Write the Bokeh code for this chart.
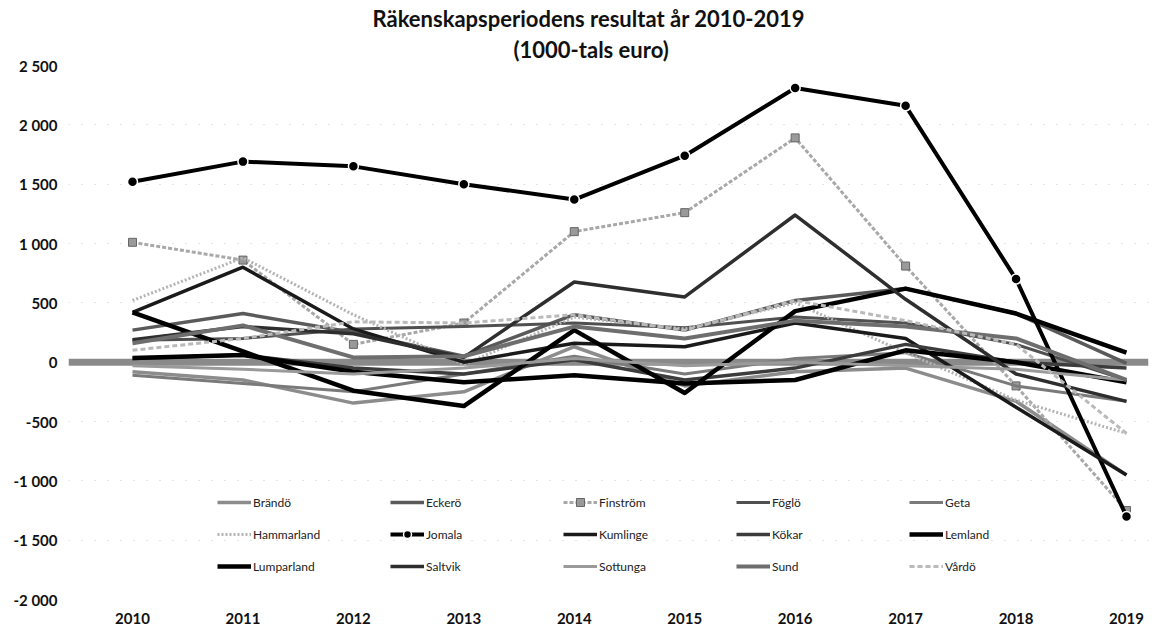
from bokeh.plotting import figure
from bokeh.models import (Range1d, FixedTicker, Span, Title, Legend, LegendItem)
from bokeh.embed import file_html
from bokeh.resources import INLINE

years = [2010, 2011, 2012, 2013, 2014, 2015, 2016, 2017, 2018, 2019]

brando     = [-80, -150, -345, -250, 130, -200, -80, -50, -330, -950]
eckero     = [270, 410, 250, 50, 400, 270, 520, 620, 410, -10]
finstrom   = [1010, 860, 150, 330, 1100, 1260, 1890, 810, -200, -1250]
foglo      = [185, 200, 280, 300, 330, 290, 380, 330, 150, -150]
geta       = [-110, -180, -250, -100, 50, -100, 30, 80, -200, -330]
hammarland = [520, 880, 400, -20, 380, 280, 500, 80, -320, -600]
jomala     = [1520, 1690, 1650, 1500, 1370, 1740, 2310, 2160, 700, -1300]
kumlinge   = [420, 800, 280, 0, 160, 130, 330, 200, -380, -950]
kokar      = [30, 60, -50, -100, 20, -150, -50, 150, 0, -50]
lemland    = [420, 90, -240, -370, 270, -260, 430, 620, 410, 80]
lumparland = [35, 60, -80, -170, -110, -180, -150, 100, 0, -170]
saltvik    = [190, 300, 240, 40, 676, 550, 1240, 530, -100, -330]
sottunga   = [-30, -60, -100, -50, 30, -30, 0, -30, -60, -150]
sund       = [160, 310, 40, 50, 300, 200, 350, 300, 200, -150]
vardo      = [100, 200, 340, 330, 400, 270, 520, 350, 150, -600]

names = ["Brändö", "Eckerö", "Finström", "Föglö", "Geta",
         "Hammarland", "Jomala", "Kumlinge", "Kökar", "Lemland",
         "Lumparland", "Saltvik", "Sottunga", "Sund", "Vårdö"]
series = [brando, eckero, finstrom, foglo, geta, hammarland, jomala, kumlinge,
          kokar, lemland, lumparland, saltvik, sottunga, sund, vardo]

y_ticks = [-2000, -1500, -1000, -500, 0, 500, 1000, 1500, 2000, 2500]
y_tick_labels = ["-2 000", "-1 500", "-1 000", "-500", "0", "500", "1 000", "1 500", "2 000", "2 500"]

title1 = "Räkenskapsperiodens resultat år 2010-2019"
title2 = "(1000-tals euro)"

# styles: (color, width, dash, marker)
styles = {
    "Brändö":     ("#8c8c8c", 3.5, "solid", None),
    "Eckerö":     ("#5a5a5a", 3.5, "solid", None),
    "Finström":   ("#a8a8a8", 3.0, "4 2", "square"),
    "Föglö":      ("#505050", 3.0, "solid", None),
    "Geta":       ("#7a7a7a", 3.0, "solid", None),
    "Hammarland": ("#b4b4b4", 3.0, "2 2", None),
    "Jomala":     ("#000000", 4.0, "solid", "circle"),
    "Kumlinge":   ("#1a1a1a", 3.5, "solid", None),
    "Kökar":      ("#3c3c3c", 3.5, "solid", None),
    "Lemland":    ("#000000", 4.5, "solid", None),
    "Lumparland": ("#000000", 4.5, "solid", None),
    "Saltvik":    ("#2e2e2e", 3.5, "solid", None),
    "Sottunga":   ("#9a9a9a", 3.0, "solid", None),
    "Sund":       ("#6e6e6e", 4.0, "solid", None),
    "Vårdö":      ("#bababa", 3.0, "5 3", None),
}

FONT = "Lato"

p = figure(width=1150, height=628, output_backend="svg", toolbar_location=None,
           x_range=Range1d(2009.4205, 2019.1992), y_range=Range1d(-2000, 2500),
           min_border_left=68, min_border_right=2, min_border_top=65, min_border_bottom=29)
p.outline_line_color = None
p.background_fill_color = "white"

# axes
p.xaxis.ticker = FixedTicker(ticks=years)
p.xaxis.axis_line_color = None
p.xaxis.major_tick_line_color = None
p.xaxis.minor_tick_line_color = None
p.xaxis.major_label_standoff = 7
p.xaxis.major_label_text_font = FONT
p.xaxis.major_label_text_font_size = "15px"
p.xaxis.major_label_text_font_style = "bold"
p.xaxis.major_label_text_color = "#111111"

p.yaxis.ticker = FixedTicker(ticks=y_ticks)
p.yaxis.major_label_overrides = {t: l for t, l in zip(y_ticks, y_tick_labels)}
p.yaxis.axis_line_color = None
p.yaxis.major_tick_line_color = None
p.yaxis.minor_tick_line_color = None
p.yaxis.major_label_standoff = 5
p.yaxis.major_label_text_font = FONT
p.yaxis.major_label_text_font_size = "15px"
p.yaxis.major_label_text_font_style = "bold"
p.yaxis.major_label_text_color = "#111111"

p.xgrid.grid_line_color = None
p.ygrid.ticker = FixedTicker(ticks=y_ticks)
p.ygrid.grid_line_color = "#bdbdbd"
p.ygrid.grid_line_dash = "1 12"
p.ygrid.grid_line_alpha = 0.8

# zero axis band
p.add_layout(Span(location=0, dimension="width", line_color="#8a8a8a",
                  line_width=7, level="underlay"))

item_map = {}
for name, vals in zip(names, series):
    c, w, d, m = styles[name]
    r = p.line(years, vals, line_color=c, line_width=w, line_dash=d, line_join="round")
    rs = [r]
    if m == "circle":
        s = p.scatter(years, vals, marker="circle", size=10, fill_color="black",
                      line_color="white", line_width=1.5)
        rs.append(s)
    elif m == "square":
        s = p.scatter(years, vals, marker="square", size=8, fill_color="#9a9a9a",
                      line_color="#666666", line_width=1)
        rs.append(s)
    item_map[name] = LegendItem(label=name, renderers=rs)

# order items so that the column-major grid reads row by row
ordered = []
for c in range(5):
    for r in range(3):
        ordered.append(item_map[names[r * 5 + c]])

legend = Legend(items=ordered, ncols=5, location=(149, 23),
                glyph_width=34, glyph_height=20, label_standoff=2,
                label_width=125, label_height=20, spacing=12, padding=0, margin=0,
                label_text_font=FONT, label_text_font_size="12px",
                label_text_color="#222222",
                background_fill_alpha=0, border_line_color=None)
p.add_layout(legend, "center")

# titles (second line nearest the plot)
p.add_layout(Title(text=title2, align="left", offset=445, text_font=FONT,
                   text_font_size="22px", text_font_style="bold",
                   text_color="#111111", standoff=5), "above")
p.add_layout(Title(text=title1, align="left", offset=304, text_font=FONT,
                   text_font_size="22px", text_font_style="bold",
                   text_color="#111111", standoff=0), "above")

open("out.html", "w").write(file_html(p, INLINE))
